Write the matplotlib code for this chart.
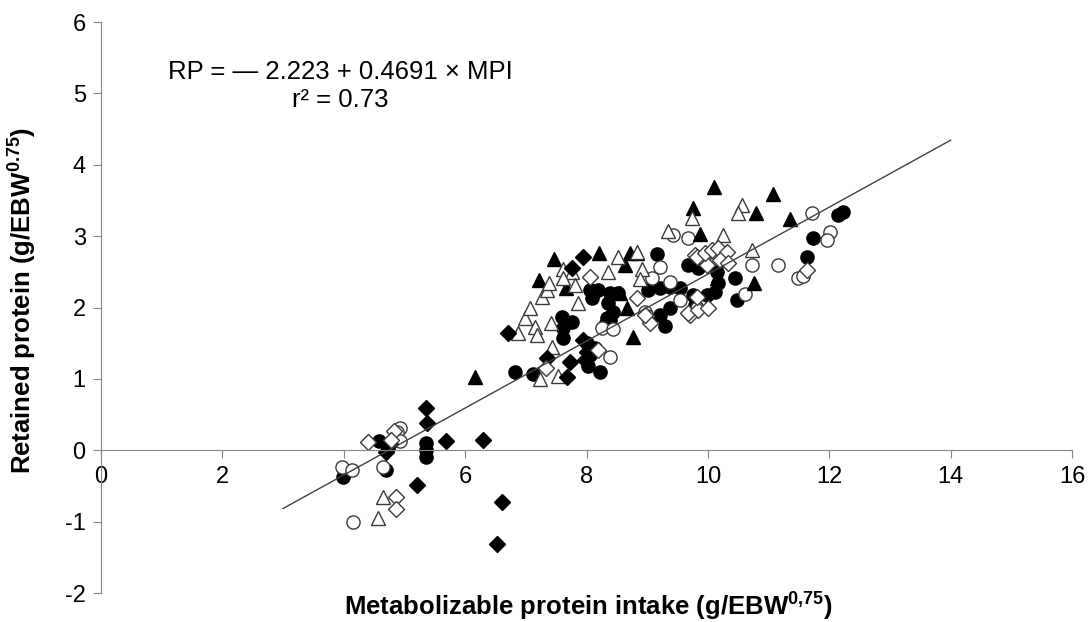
import matplotlib
matplotlib.use("Agg")
import matplotlib.pyplot as plt

plt.rcParams['font.family'] = ['Liberation Sans', 'DejaVu Sans']
plt.rcParams['axes.unicode_minus'] = False
plt.rcParams['mathtext.fontset'] = 'custom'
plt.rcParams['mathtext.rm'] = 'Liberation Sans'
plt.rcParams['mathtext.bf'] = 'Liberation Sans:bold'

# filled circles
fc_x = [3.98, 4.58, 4.70, 4.73, 5.36, 5.36, 5.36, 6.82, 7.12, 7.60, 7.76, 7.61, 7.61,
        8.06, 8.19, 8.09, 8.39, 8.52, 8.35, 8.43, 8.39, 8.34, 8.30, 8.00, 8.14, 8.06, 8.02, 8.22,
        9.16, 9.01, 9.21, 9.37, 9.54, 9.21, 9.37, 9.29, 9.67, 9.84, 9.75, 9.79, 9.98,
        10.15, 10.16, 10.12, 10.44, 10.48, 11.63, 11.73, 12.14, 12.22]
fc_y = [-0.38, 0.13, -0.27, 0.03, 0.10, 0.01, -0.09, 1.10, 1.07, 1.87, 1.80, 1.71, 1.57,
        2.24, 2.24, 2.13, 2.20, 2.20, 2.07, 1.94, 1.82, 1.85, 1.75, 1.50, 1.43, 1.33, 1.18, 1.09,
        2.75, 2.24, 2.27, 2.29, 2.27, 1.89, 1.99, 1.74, 2.59, 2.55, 2.17, 2.03, 2.17,
        2.50, 2.34, 2.22, 2.41, 2.10, 2.71, 2.97, 3.30, 3.34]

# open circles
oc_x = [3.97, 4.13, 4.15, 4.65, 4.93, 4.87, 4.92, 8.25, 8.43, 8.39,
        9.21, 9.08, 9.37, 9.54, 8.96, 9.00, 9.42, 9.67, 9.82,
        10.25, 10.72, 10.61, 11.15, 11.48, 11.57, 11.71, 12.01, 11.96]
oc_y = [-0.24, -0.27, -1.00, -0.24, 0.31, 0.26, 0.13, 1.71, 1.70, 1.30,
        2.57, 2.41, 2.36, 2.10, 1.94, 1.88, 3.02, 2.97, 2.00,
        2.66, 2.59, 2.19, 2.59, 2.41, 2.44, 3.32, 3.06, 2.95]

# filled triangles
ft_x = [6.16, 7.22, 7.46, 7.67, 8.20, 8.63, 8.71, 8.83, 8.55, 8.67, 8.76,
        9.75, 9.87, 10.10, 10.79, 11.07, 11.35, 10.76, 10.15]
ft_y = [1.02, 2.38, 2.68, 2.27, 2.76, 2.60, 2.76, 2.76, 2.20, 2.00, 1.58,
        3.39, 3.03, 3.69, 3.32, 3.59, 3.24, 2.34, 2.42]

# open triangles
ot_x = [4.57, 4.65, 7.23, 7.53, 7.43, 6.87, 6.98, 7.07, 7.15, 7.18, 7.41,
        7.26, 7.35, 7.38, 7.61, 7.76, 7.61, 7.81, 7.86,
        8.52, 8.35, 8.91, 8.88, 8.83, 9.34, 10.25, 9.73, 10.56, 10.49, 10.72]
ot_y = [-0.95, -0.65, 1.00, 1.04, 1.45, 1.64, 1.85, 1.99, 1.73, 1.61, 1.78,
        2.15, 2.24, 2.34, 2.54, 2.50, 2.41, 2.31, 2.07,
        2.71, 2.50, 2.54, 2.40, 2.78, 3.07, 3.02, 3.25, 3.44, 3.32, 2.80]

# filled diamonds
fd_x = [4.70, 4.76, 5.20, 5.35, 5.37, 5.68, 6.29, 6.60, 6.52,
        6.70, 7.35, 7.68, 7.76, 7.94, 7.94, 8.00, 7.97, 8.09, 7.73]
fd_y = [-0.03, 0.09, -0.49, 0.59, 0.38, 0.13, 0.15, -0.73, -1.31,
        1.64, 1.29, 1.02, 2.55, 2.71, 1.54, 1.37, 1.26, 1.37, 1.23]

# open diamonds
od_x = [4.40, 4.82, 4.86, 4.86, 4.78, 7.33, 8.06, 8.19, 8.83, 9.04, 8.96,
        9.79, 9.92, 9.98, 9.70, 9.82, 9.95, 10.07, 10.16, 10.31, 10.20, 10.33,
        9.67, 9.84, 10.00, 9.82, 11.63]
od_y = [0.11, 0.27, -0.65, -0.82, 0.15, 1.15, 2.43, 1.40, 2.13, 1.78, 1.89,
        2.73, 2.69, 2.60, 1.89, 2.71, 2.76, 2.80, 2.83, 2.78, 2.66, 2.62,
        1.92, 1.96, 1.99, 2.15, 2.52]

intercept = -2.223
slope = 0.4691
line_x = [3, 14]
line_y = [intercept + slope * v for v in line_x]

fig = plt.figure(figsize=(10.91, 6.22), dpi=100)
ax = fig.add_axes([0.0926, 0.0466, 0.89, 0.918])

edge = '#3a3a3a'
ax.plot(fc_x, fc_y, 'o', ms=9.5, mfc='black', mec='black', ls='none')
ax.plot(oc_x, oc_y, 'o', ms=9.5, mfc='white', mec=edge, mew=1, ls='none')
ax.plot(ft_x, ft_y, '^', ms=9.5, mfc='black', mec='black', ls='none')
ax.plot(ot_x, ot_y, '^', ms=10, mfc='white', mec=edge, mew=1, ls='none')
ax.plot(fd_x, fd_y, 'D', ms=8, mfc='black', mec='black', ls='none')
ax.plot(od_x, od_y, 'D', ms=8, mfc='white', mec=edge, mew=1, ls='none')
ax.plot(line_x, line_y, color='#404040', lw=1)

ax.set_xlim(0, 16)
ax.set_ylim(-2, 6)
ax.set_xticks(range(0, 17, 2))
ax.set_yticks(range(-2, 7))
ax.spines['top'].set_visible(False)
ax.spines['right'].set_visible(False)
ax.spines['bottom'].set_position(('data', 0))
for s in ('left', 'bottom'):
    ax.spines[s].set_color('#868686')
ax.tick_params(direction='out', length=6, color='#868686', labelsize=17, pad=5)

ax.text(3.94, 5.3, 'RP = \u2014 2.223 + 0.4691 \u00d7 MPI', ha='center', va='center', fontsize=18.5)
ax.text(3.94, 4.91, 'r\u00b2 = 0.73', ha='center', va='center', fontsize=18.5)

fig.text(588 / 1091, 1 - 606 / 622, 'Metabolizable protein intake (g/EBW$^{\\mathbf{0{,}75}}$)',
         ha='center', va='center', fontsize=18.5, fontweight='bold')
fig.text(22 / 1091, 1 - 300 / 622, 'Retained protein (g/EBW$^{\\mathbf{0.75}}$)',
         ha='center', va='center', rotation=90, fontsize=18.5, fontweight='bold')

fig.savefig('out.png', dpi=100)
